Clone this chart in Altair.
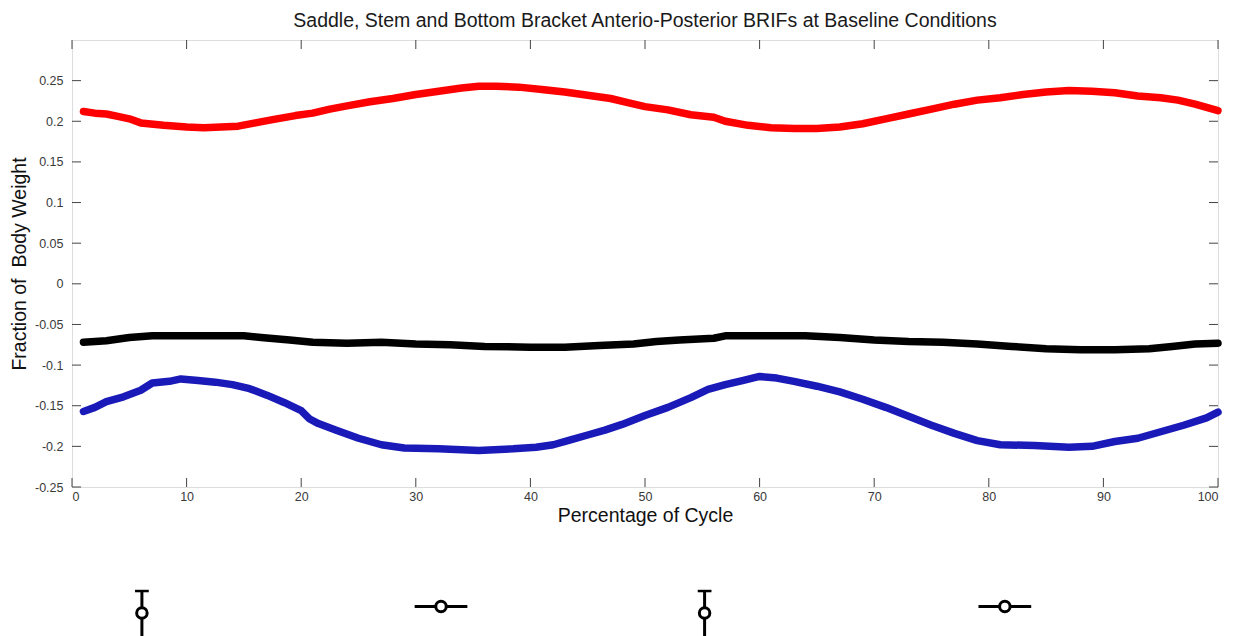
import altair as alt
import pandas as pd

# ---- data ----
red_x = [1, 2, 3, 4, 5, 6, 8, 10, 11.5, 13, 14.5, 16, 17.5, 19.5, 21, 22.5, 24, 26, 28, 30, 32, 34, 35.5, 37, 39,
         41, 43, 45, 47, 48.5, 50, 52, 54, 56, 57, 59, 61, 63, 65, 67, 69, 71, 73, 75, 77, 79, 81, 83, 85, 87, 89,
         91, 93, 95, 96.5, 98, 100]
red_y = [0.212, 0.210, 0.209, 0.206, 0.203, 0.198, 0.195, 0.193, 0.192, 0.193, 0.194, 0.198, 0.202, 0.207, 0.210,
         0.215, 0.219, 0.224, 0.228, 0.233, 0.237, 0.241, 0.243, 0.243, 0.242, 0.239, 0.236, 0.232, 0.228, 0.223,
         0.218, 0.214, 0.208, 0.205, 0.200, 0.195, 0.192, 0.191, 0.191, 0.193, 0.197, 0.203, 0.209, 0.215, 0.221,
         0.226, 0.229, 0.233, 0.236, 0.238, 0.237, 0.235, 0.231, 0.229, 0.226, 0.221, 0.213]

black_x = [1, 3, 5, 7, 10, 13, 15, 16.5, 19, 21, 24, 27, 30, 33, 36, 40, 43, 46, 49, 51, 53, 56, 57, 60, 64, 67,
           70, 73, 76, 79, 82, 85, 88, 91, 94, 96, 98, 100]
black_y = [-0.072, -0.070, -0.066, -0.064, -0.064, -0.064, -0.064, -0.066, -0.069, -0.072, -0.073, -0.072, -0.074,
           -0.075, -0.077, -0.078, -0.078, -0.076, -0.074, -0.071, -0.069, -0.067, -0.064, -0.064, -0.064, -0.066,
           -0.069, -0.071, -0.072, -0.074, -0.077, -0.080, -0.081, -0.081, -0.080, -0.077, -0.074, -0.073]

blue_x = [1, 2, 3, 4.5, 6, 7, 8.5, 9.5, 11, 12.5, 14, 15.5, 17, 18.5, 20, 20.7, 21.5, 23, 25, 27, 29, 32, 35.5,
          38.5, 40.5, 42, 43.5, 45, 46.5, 48, 50, 52, 54, 55.5, 57, 58.5, 60, 61.5, 63, 65, 67, 69, 71, 73, 75, 77,
          79, 81, 84, 87, 89, 91, 93, 95, 97, 99, 100]
blue_y = [-0.157, -0.152, -0.145, -0.139, -0.131, -0.122, -0.120, -0.117, -0.119, -0.121, -0.124, -0.129, -0.137,
          -0.146, -0.156, -0.166, -0.172, -0.180, -0.190, -0.198, -0.202, -0.203, -0.205, -0.203, -0.201, -0.198,
          -0.192, -0.186, -0.180, -0.173, -0.162, -0.152, -0.140, -0.130, -0.124, -0.119, -0.114, -0.116, -0.120,
          -0.126, -0.133, -0.142, -0.152, -0.163, -0.174, -0.184, -0.193, -0.198, -0.199, -0.201, -0.200, -0.194,
          -0.190, -0.182, -0.174, -0.165, -0.158]

x_ticks = [0, 10, 20, 30, 40, 50, 60, 70, 80, 90, 100]
y_ticks = [-0.25, -0.2, -0.15, -0.1, -0.05, 0, 0.05, 0.1, 0.15, 0.2, 0.25]

# legend-like glyph remnants below the plot (data units of the same scales)
vbar_x = [6.1, 55.2]
vbar_top = -0.378
vbar_bottom = -0.45
vbar_cap = 0.6
hbar_x = [32.2, 81.4]
hbar_half = 2.3
hbar_y = -0.397
vcirc_y = -0.405

W, H = 1146, 447
XDOM = [0, 100]
YDOM = [-0.25, 0.3]
FONT = "Liberation Sans"

series = pd.concat([
    pd.DataFrame({"x": red_x, "y": red_y, "s": "Saddle"}),
    pd.DataFrame({"x": black_x, "y": black_y, "s": "Stem"}),
    pd.DataFrame({"x": blue_x, "y": blue_y, "s": "Bottom Bracket"}),
])

xs = alt.Scale(domain=XDOM, nice=False, zero=False)
ys = alt.Scale(domain=YDOM, nice=False, zero=False)

axis_common = dict(domain=False, ticks=False, grid=False,
                   labelFont=FONT, labelFontSize=12.5, labelColor="#3a3a3a",
                   titleFont=FONT, titleFontSize=19.5, titleFontWeight="normal", titleColor="#111111")

base_x = alt.X("x:Q", scale=xs, axis=alt.Axis(values=x_ticks, title="Percentage of Cycle",
                                                labelPadding=3, titlePadding=4, **axis_common))
base_y = alt.Y("y:Q", scale=ys, axis=alt.Axis(values=y_ticks, title="Fraction of\u00a0 Body Weight",
                                                labelPadding=9, titlePadding=5,
                                                labelExpr="toString(round(datum.value*100)/100)",
                                                **axis_common))

lines = alt.Chart(series).mark_line(strokeWidth=7.5, strokeCap="round", strokeJoin="round").encode(
    x=base_x, y=base_y,
    color=alt.Color("s:N", scale=alt.Scale(domain=["Saddle", "Stem", "Bottom Bracket"],
                                           range=["#ff0000", "#000000", "#1a1ab8"]), legend=None),
    detail="s:N",
)

xt = pd.DataFrame({"x": x_ticks})
yt = pd.DataFrame({"y": y_ticks})
tick_col = "#444444"
xt_bot = alt.Chart(xt).mark_rule(color=tick_col, strokeWidth=1).encode(
    x=alt.X("x:Q", scale=xs), y=alt.value(H), y2=alt.value(H - 9))
xt_top = alt.Chart(xt).mark_rule(color=tick_col, strokeWidth=1).encode(
    x=alt.X("x:Q", scale=xs), y=alt.value(0), y2=alt.value(9))
yt_left = alt.Chart(yt).mark_rule(color=tick_col, strokeWidth=1).encode(
    y=alt.Y("y:Q", scale=ys), x=alt.value(0), x2=alt.value(9))
yt_right = alt.Chart(yt).mark_rule(color=tick_col, strokeWidth=1).encode(
    y=alt.Y("y:Q", scale=ys), x=alt.value(W), x2=alt.value(W - 9))

# glyphs
vb = pd.DataFrame({"x": vbar_x, "y1": [vbar_top] * 2, "y2": [vbar_bottom] * 2,
                   "xl": [v - vbar_cap for v in vbar_x], "xr": [v + vbar_cap for v in vbar_x],
                   "yc": [vcirc_y] * 2})
hb = pd.DataFrame({"x": hbar_x, "xl": [v - hbar_half for v in hbar_x], "xr": [v + hbar_half for v in hbar_x],
                   "y": [hbar_y] * 2})
v_line = alt.Chart(vb).mark_rule(color="black", strokeWidth=3).encode(
    x=alt.X("x:Q", scale=xs), y=alt.Y("y1:Q", scale=ys), y2="y2:Q")
v_cap = alt.Chart(vb).mark_rule(color="black", strokeWidth=2.5).encode(
    x=alt.X("xl:Q", scale=xs), x2="xr:Q", y=alt.Y("y1:Q", scale=ys))
v_circ = alt.Chart(vb).mark_point(shape="circle", size=110, filled=False, color="black", strokeWidth=3,
                                  fill="white", fillOpacity=1).encode(
    x=alt.X("x:Q", scale=xs), y=alt.Y("yc:Q", scale=ys))
h_line = alt.Chart(hb).mark_rule(color="black", strokeWidth=3).encode(
    x=alt.X("xl:Q", scale=xs), x2="xr:Q", y=alt.Y("y:Q", scale=ys))
h_circ = alt.Chart(hb).mark_point(shape="circle", size=110, filled=False, color="black", strokeWidth=3,
                                  fill="white", fillOpacity=1).encode(
    x=alt.X("x:Q", scale=xs), y=alt.Y("y:Q", scale=ys))

chart = alt.layer(lines, xt_bot, xt_top, yt_left, yt_right, v_line, v_cap, v_circ, h_line, h_circ).properties(
    width=W, height=H,
    autosize=alt.AutoSizeParams(type="none"),
    padding={"left": 64, "top": 32, "right": 7, "bottom": 149},
    title=alt.TitleParams("Saddle, Stem and Bottom Bracket Anterio-Posterior BRIFs at Baseline Conditions",
                          font=FONT, fontSize=19.5, fontWeight="normal", color="#1a1a1a", anchor="middle",
                          offset=8),
).configure_view(stroke="#444444", strokeWidth=1.2).configure(background="white")

chart.save("out.html", embed_options={"renderer": "svg", "actions": False})
